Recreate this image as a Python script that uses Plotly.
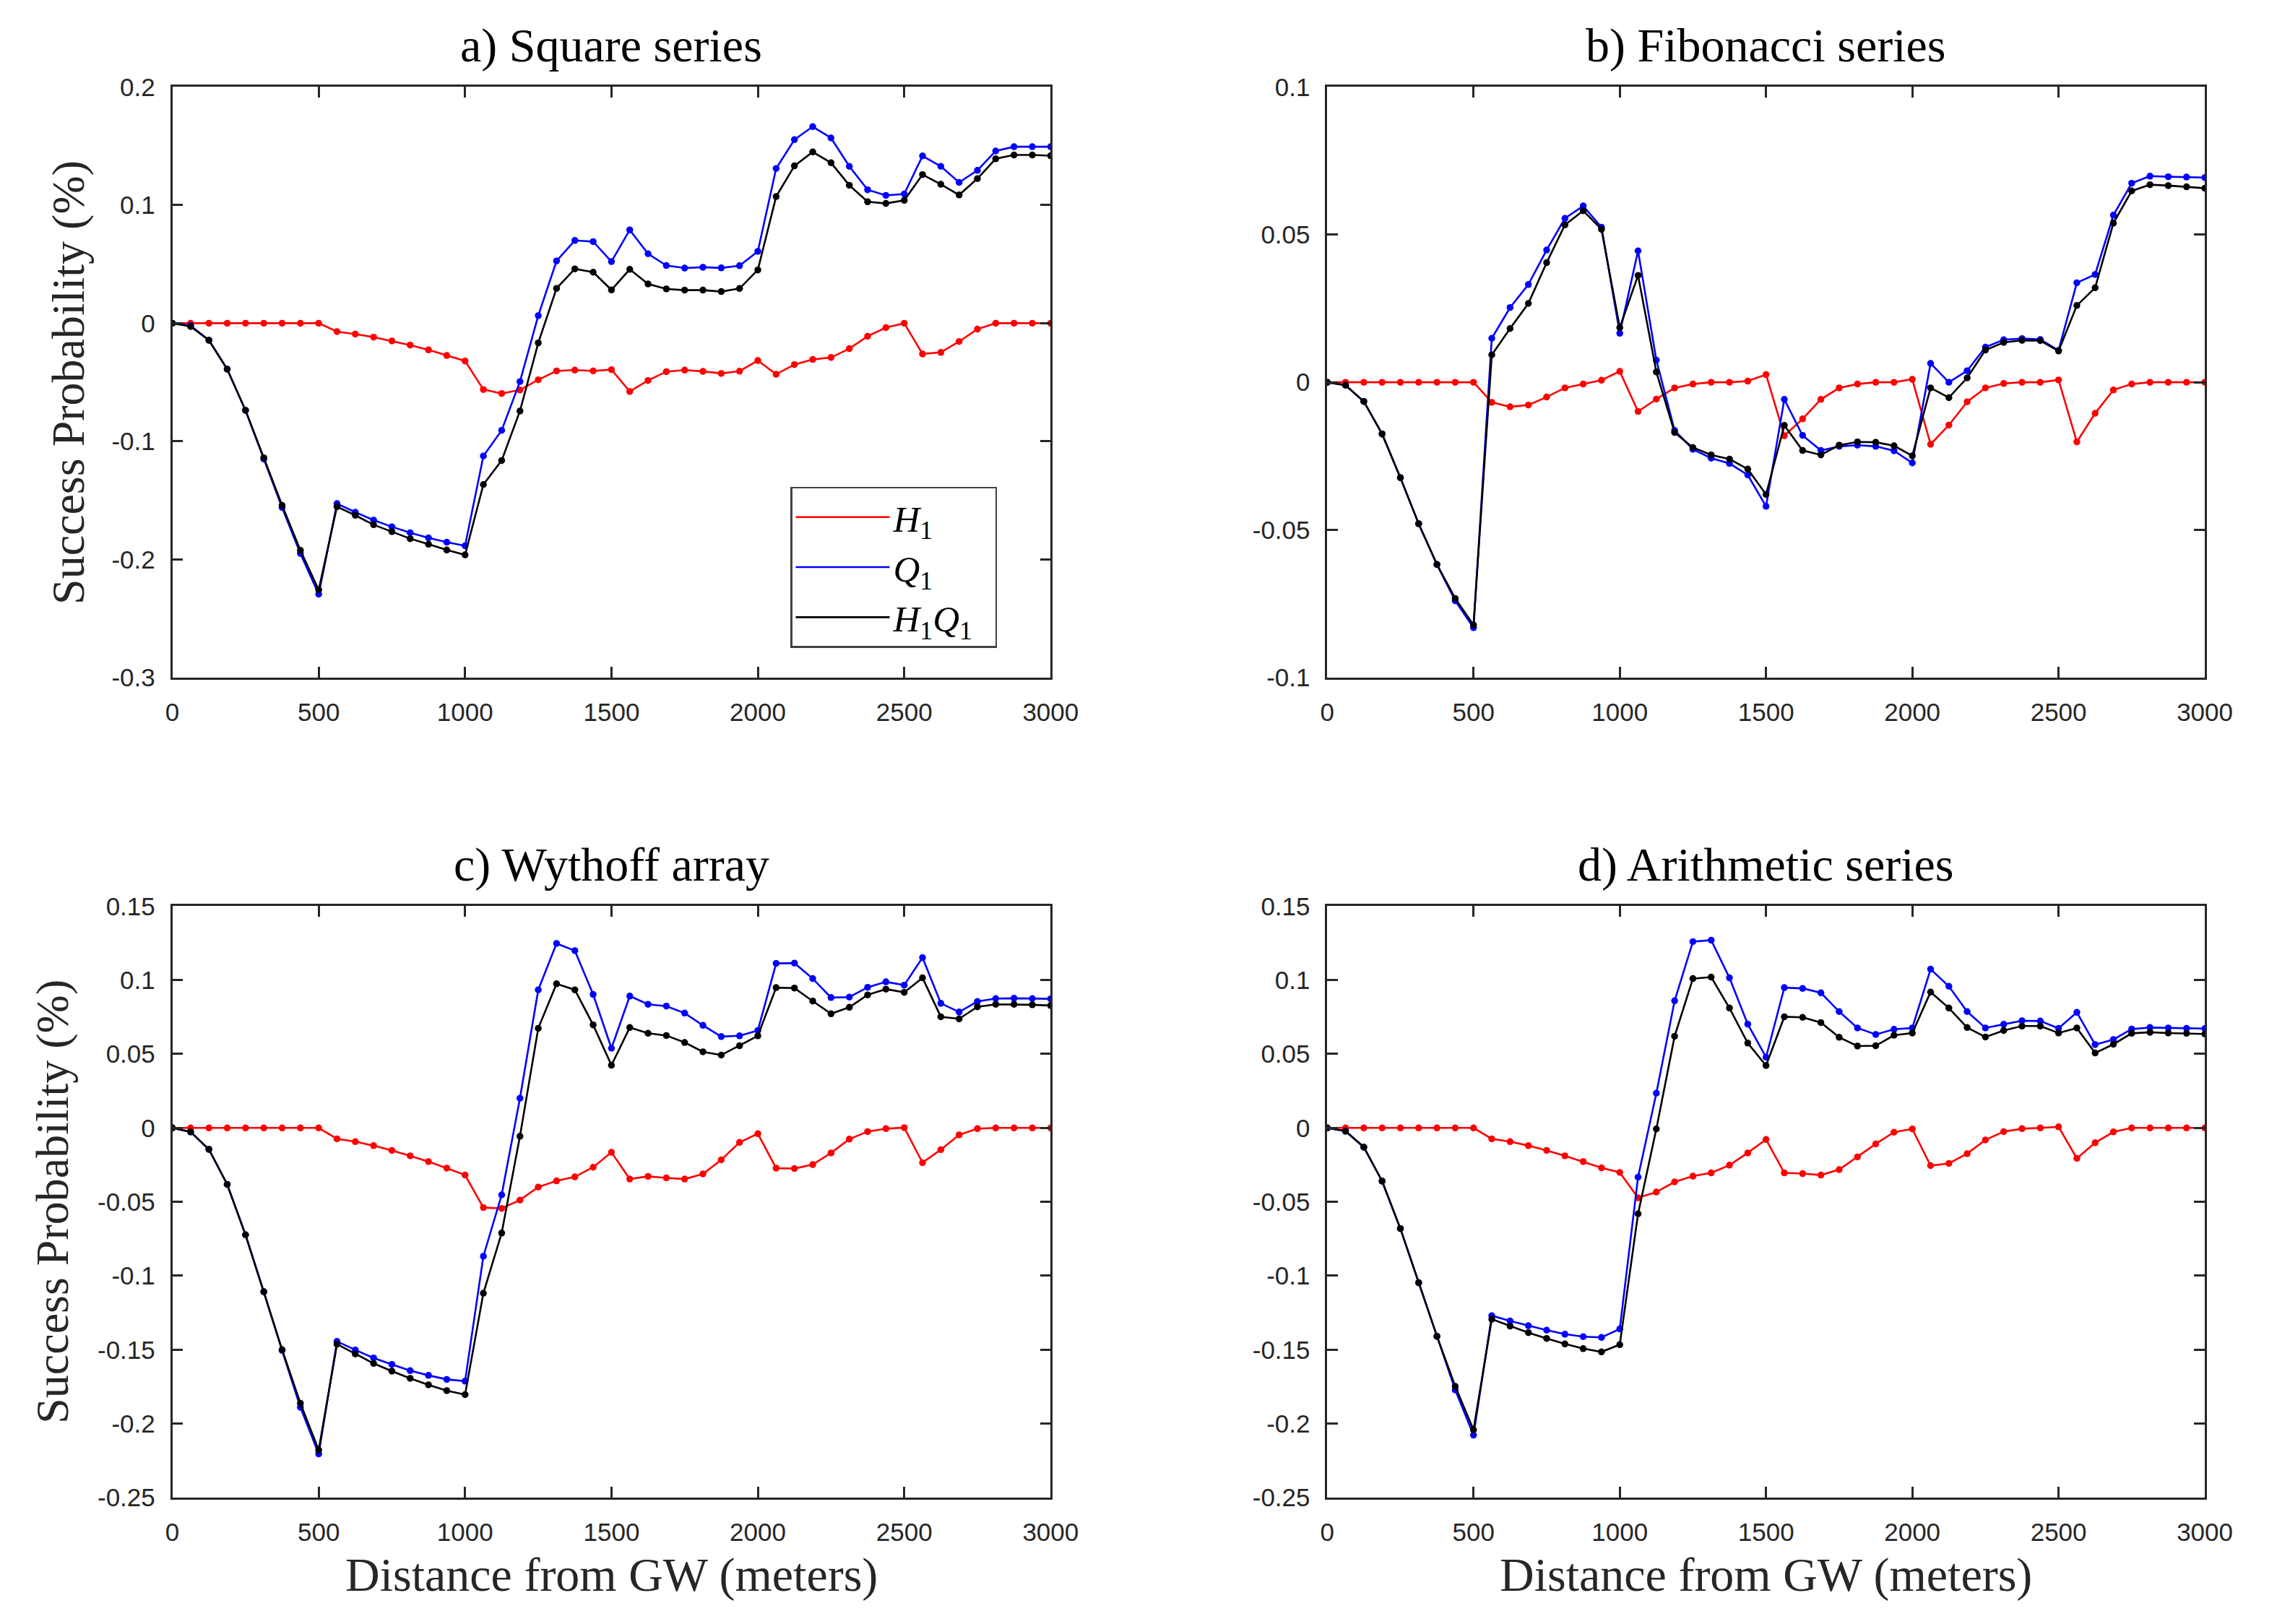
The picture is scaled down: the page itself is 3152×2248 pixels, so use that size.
import plotly.graph_objects as go

# ---------------- data ----------------
distance = [0, 62.5, 125, 187.5, 250, 312.5, 375, 437.5, 500, 562.5, 625, 687.5, 750,
            812.5, 875, 937.5, 1000, 1062.5, 1125, 1187.5, 1250, 1312.5, 1375, 1437.5,
            1500, 1562.5, 1625, 1687.5, 1750, 1812.5, 1875, 1937.5, 2000, 2062.5, 2125,
            2187.5, 2250, 2312.5, 2375, 2437.5, 2500, 2562.5, 2625, 2687.5, 2750,
            2812.5, 2875, 2937.5, 3000]

# a) Square series
H1_a = [0, 0, 0, 0, 0, 0, 0, 0, 0,
        -0.0071, -0.0092, -0.0118, -0.0150, -0.0185, -0.0226, -0.0273, -0.0320,
        -0.0561, -0.0595, -0.0565, -0.0479, -0.0404, -0.0397, -0.0404, -0.0393,
        -0.0578, -0.0485, -0.041, -0.0397, -0.0408, -0.0425, -0.0406, -0.0316,
        -0.0432, -0.035, -0.0307, -0.029, -0.0215, -0.011, -0.0037, 0.0,
        -0.026, -0.0247, -0.0155, -0.005, 0, 0, 0, 0]
Q1_a = [0, -0.002, -0.0144, -0.0389, -0.0737, -0.115, -0.156, -0.195, -0.2294,
        -0.1527, -0.16, -0.1667, -0.1723, -0.1774, -0.1817, -0.1854, -0.1884,
        -0.1124, -0.0907, -0.0494, 0.0064, 0.0527, 0.0701, 0.0691, 0.0522,
        0.079, 0.0588, 0.0488, 0.0467, 0.0474, 0.0468, 0.0487, 0.0608,
        0.131, 0.1554, 0.1664, 0.1568, 0.1328, 0.113, 0.1082, 0.1094,
        0.1416, 0.1328, 0.1192, 0.1294, 0.1458, 0.1494, 0.1494, 0.1494]
H1Q1_a = [0, -0.0028, -0.0144, -0.0389, -0.0737, -0.1139, -0.1542, -0.1923, -0.2258,
          -0.1553, -0.1626, -0.1706, -0.1764, -0.1824, -0.1871, -0.192, -0.1961,
          -0.1366, -0.1162, -0.0743, -0.0167, 0.0295, 0.046, 0.0432, 0.0282,
          0.0456, 0.0332, 0.029, 0.028, 0.028, 0.0268, 0.0294, 0.0451,
          0.1072, 0.1332, 0.145, 0.1358, 0.1168, 0.1028, 0.1014, 0.104,
          0.1258, 0.1176, 0.1086, 0.1224, 0.1392, 0.1424, 0.1424, 0.1418]

# b) Fibonacci series
H1_b = [0, 0, 0, 0, 0, 0, 0, 0, 0,
        -0.0068, -0.0083, -0.0077, -0.005, -0.0019, -0.0006, 0.0007, 0.0037,
        -0.0099, -0.0057, -0.0019, -0.0006, 0, 0, 0.0004, 0.0026,
        -0.0181, -0.0124, -0.0058, -0.0019, -0.0006, 0, 0, 0.001,
        -0.021, -0.0145, -0.0066, -0.0019, -0.0004, 0, 0, 0.0008,
        -0.0202, -0.0105, -0.0026, -0.0006, 0, 0, 0, 0]
Q1_b = [0, -0.001, -0.0065, -0.0175, -0.0323, -0.0479, -0.0617, -0.074, -0.0831,
        0.0149, 0.0253, 0.0331, 0.0448, 0.0555, 0.0597, 0.0525, 0.0166,
        0.0445, 0.0075, -0.0163, -0.0227, -0.0257, -0.0275, -0.0314, -0.042,
        -0.0058, -0.018, -0.0231, -0.0217, -0.0213, -0.0217, -0.0232, -0.0273,
        0.0064, 0.0, 0.0039, 0.0119, 0.0144, 0.0148, 0.0145, 0.0108,
        0.0337, 0.0365, 0.0566, 0.0674, 0.0698, 0.0696, 0.0695, 0.0693]
H1Q1_b = [0, -0.001, -0.0065, -0.0175, -0.0323, -0.0479, -0.0617, -0.0732, -0.0822,
          0.0093, 0.0182, 0.0267, 0.0405, 0.0533, 0.0581, 0.0518, 0.0185,
          0.0362, 0.0035, -0.017, -0.0221, -0.0246, -0.026, -0.0294, -0.038,
          -0.0146, -0.0231, -0.0246, -0.0213, -0.0202, -0.0203, -0.0215, -0.0249,
          -0.0019, -0.0052, 0.0015, 0.0109, 0.0135, 0.0142, 0.0141, 0.0106,
          0.026, 0.032, 0.0539, 0.0648, 0.0669, 0.0666, 0.0662, 0.0657]

# c) Wythoff array
H1_c = [0, 0, 0, 0, 0, 0, 0, 0, 0,
        -0.0074, -0.0093, -0.012, -0.0152, -0.0189, -0.0228, -0.0272, -0.0319,
        -0.0539, -0.0544, -0.0488, -0.04, -0.0358, -0.0331, -0.0266, -0.0165,
        -0.0346, -0.0328, -0.0338, -0.0346, -0.0311, -0.0216, -0.0098, -0.0039,
        -0.0272, -0.0275, -0.0248, -0.0169, -0.0076, -0.0025, -0.0005, 0.0002,
        -0.0235, -0.0147, -0.0047, -0.0005, 0, 0, 0, 0]
Q1_c = [0, -0.0027, -0.0145, -0.0382, -0.0723, -0.1108, -0.1505, -0.189, -0.2205,
        -0.1444, -0.1502, -0.1556, -0.16, -0.1642, -0.1674, -0.1701, -0.1713,
        -0.0868, -0.0453, 0.0201, 0.0934, 0.1248, 0.1199, 0.0903, 0.0539,
        0.0892, 0.0836, 0.0824, 0.0777, 0.0694, 0.0618, 0.0623, 0.0659,
        0.1113, 0.1115, 0.101, 0.0882, 0.0885, 0.0951, 0.0988, 0.0966,
        0.1152, 0.0843, 0.0784, 0.0855, 0.0875, 0.0877, 0.0875, 0.0873]
H1Q1_c = [0, -0.0027, -0.0145, -0.0382, -0.0723, -0.1108, -0.15, -0.1863, -0.2179,
          -0.1463, -0.1529, -0.1593, -0.1645, -0.1694, -0.1738, -0.1777, -0.1804,
          -0.1118, -0.0711, -0.0056, 0.0674, 0.0975, 0.0934, 0.0697, 0.0424,
          0.0679, 0.064, 0.0625, 0.0578, 0.0515, 0.0493, 0.0556, 0.0623,
          0.0949, 0.0946, 0.0858, 0.0772, 0.0816, 0.09, 0.0939, 0.0917,
          0.1015, 0.0752, 0.0738, 0.0819, 0.0836, 0.0836, 0.0833, 0.0828]

# d) Arithmetic series
H1_d = [0, 0, 0, 0, 0, 0, 0, 0, 0,
        -0.0074, -0.0093, -0.012, -0.0152, -0.0189, -0.0228, -0.027, -0.0301,
        -0.0473, -0.0434, -0.0365, -0.0326, -0.0304, -0.0252, -0.0169, -0.0078,
        -0.0304, -0.0309, -0.0319, -0.0282, -0.0196, -0.0108, -0.0029, -0.0007,
        -0.0255, -0.024, -0.0174, -0.0081, -0.0025, -0.0005, 0, 0.0007,
        -0.0206, -0.01, -0.0027, 0, 0, 0, 0, 0]
Q1_d = [0, -0.0022, -0.013, -0.036, -0.0681, -0.1047, -0.141, -0.1772, -0.2078,
        -0.127, -0.1306, -0.1338, -0.1368, -0.1395, -0.1412, -0.1417, -0.136,
        -0.0333, 0.0235, 0.086, 0.126, 0.127, 0.1015, 0.0702, 0.0478,
        0.0949, 0.0944, 0.0914, 0.0787, 0.0676, 0.0632, 0.0667, 0.0676,
        0.1074, 0.0958, 0.0787, 0.0676, 0.0701, 0.0725, 0.0723, 0.0674,
        0.0782, 0.0564, 0.0598, 0.0669, 0.0679, 0.0676, 0.0674, 0.0672]
H1Q1_d = [0, -0.0022, -0.013, -0.036, -0.0681, -0.1047, -0.1409, -0.1748, -0.2042,
          -0.1294, -0.1341, -0.1385, -0.1424, -0.1461, -0.1493, -0.1515, -0.1466,
          -0.0581, -0.0007, 0.062, 0.101, 0.102, 0.0811, 0.0574, 0.0422,
          0.0752, 0.0748, 0.0713, 0.0613, 0.0554, 0.0556, 0.0627, 0.0642,
          0.0919, 0.0811, 0.0679, 0.0615, 0.0659, 0.0689, 0.0689, 0.0642,
          0.0676, 0.0507, 0.0566, 0.064, 0.0647, 0.0642, 0.064, 0.0635]

titles = ["a) Square series", "b) Fibonacci series", "c) Wythoff array", "d) Arithmetic series"]
series_names = ["<i>H</i><sub>1</sub>", "<i>Q</i><sub>1</sub>", "<i>H</i><sub>1</sub><i>Q</i><sub>1</sub>"]
x_tickvals = [0, 500, 1000, 1500, 2000, 2500, 3000]
x_ticktext = ["0", "500", "1000", "1500", "2000", "2500", "3000"]
y_ticks_a = [-0.3, -0.2, -0.1, 0, 0.1, 0.2]
y_text_a = ["-0.3", "-0.2", "-0.1", "0", "0.1", "0.2"]
y_ticks_b = [-0.1, -0.05, 0, 0.05, 0.1]
y_text_b = ["-0.1", "-0.05", "0", "0.05", "0.1"]
y_ticks_cd = [-0.25, -0.2, -0.15, -0.1, -0.05, 0, 0.05, 0.1, 0.15]
y_text_cd = ["-0.25", "-0.2", "-0.15", "-0.1", "-0.05", "0", "0.05", "0.1", "0.15"]
y_label = "Success Probability (%)"
x_label = "Distance from GW (meters)"

# ---------------- layout geometry ----------------
W, H = 3152, 2248
px_x = lambda p: p / W
px_y = lambda p: 1 - p / H

col_dom = [(px_x(224), px_x(1459)), (px_x(1848), px_x(3082))]
row_dom = [(px_y(926), px_y(94)), (px_y(2081), px_y(1248))]

panels = [
    dict(data=(H1_a, Q1_a, H1Q1_a), yr=[-0.3, 0.2], yt=(y_ticks_a, y_text_a), col=0, row=0),
    dict(data=(H1_b, Q1_b, H1Q1_b), yr=[-0.1, 0.1], yt=(y_ticks_b, y_text_b), col=1, row=0),
    dict(data=(H1_c, Q1_c, H1Q1_c), yr=[-0.25, 0.15], yt=(y_ticks_cd, y_text_cd), col=0, row=1),
    dict(data=(H1_d, Q1_d, H1Q1_d), yr=[-0.25, 0.15], yt=(y_ticks_cd, y_text_cd), col=1, row=1),
]
colors = ["#FF0000", "#0000FF", "#000000"]

fig = go.Figure()
axis_col = "#262626"
tick_font = dict(family="Liberation Sans, Arial, sans-serif", size=35, color=axis_col)
serif = "Liberation Serif, Times New Roman, serif"
annotations = []

for i, p in enumerate(panels):
    n = "" if i == 0 else str(i + 1)
    xa, ya = "x" + n, "y" + n
    for k in range(3):
        fig.add_trace(go.Scatter(
            x=distance, y=p["data"][k], mode="lines+markers",
            line=dict(color=colors[k], width=2.6),
            marker=dict(color=colors[k], size=9.5),
            xaxis=xa, yaxis=ya, showlegend=False, hoverinfo="x+y"))
    common = dict(showline=True, linecolor=axis_col, linewidth=2.5, mirror="ticks",
                  ticks="inside", ticklen=15, tickwidth=2.5, tickcolor=axis_col,
                  showgrid=False, zeroline=False, tickfont=tick_font)
    fig.layout["xaxis" + n] = dict(common, domain=col_dom[p["col"]], range=[0, 3000],
                                   tickvals=x_tickvals, ticktext=x_ticktext,
                                   anchor=ya, ticklabelstandoff=15)
    fig.layout["yaxis" + n] = dict(common, domain=row_dom[p["row"]], range=p["yr"],
                                   tickvals=p["yt"][0], ticktext=p["yt"][1],
                                   anchor=xa, ticklabelstandoff=14)
    cx = (col_dom[p["col"]][0] + col_dom[p["col"]][1]) / 2
    top = row_dom[p["row"]][1]
    annotations.append(dict(text=titles[i], x=cx, y=top + 58 / H, xref="paper", yref="paper",
                            xanchor="center", yanchor="middle", showarrow=False,
                            font=dict(family=serif, size=66, color="#000000")))

# legend-only traces (line samples without markers)
for k in range(3):
    fig.add_trace(go.Scatter(x=[None], y=[None], mode="lines",
                             name=series_names[k] + "&nbsp;&nbsp;",
                             line=dict(color=colors[k], width=2.6), xaxis="x", yaxis="y",
                             showlegend=True))

# axis labels
for r in range(2):
    annotations.append(dict(text=y_label, x=px_x(77 if r == 0 else 55),
                            y=(row_dom[r][0] + row_dom[r][1]) / 2,
                            xref="paper", yref="paper", textangle=-90,
                            xanchor="center", yanchor="middle", showarrow=False,
                            font=dict(family=serif, size=64, color=axis_col)))
for c in range(2):
    annotations.append(dict(text=x_label, x=(col_dom[c][0] + col_dom[c][1]) / 2,
                            y=px_y(2190), xref="paper", yref="paper",
                            xanchor="center", yanchor="middle", showarrow=False,
                            font=dict(family=serif, size=66, color=axis_col)))

fig.update_layout(
    width=W, height=H, margin=dict(l=0, r=0, t=0, b=0),
    paper_bgcolor="white", plot_bgcolor="white",
    annotations=annotations,
    legend=dict(x=px_x(1093), y=px_y(657), xanchor="left", yanchor="top",
                bgcolor="white", bordercolor="#404040", borderwidth=2.5,
                font=dict(family=serif, size=51, color="#000000"),
                itemwidth=130, tracegroupgap=0),
)

fig.write_html("out.html")
